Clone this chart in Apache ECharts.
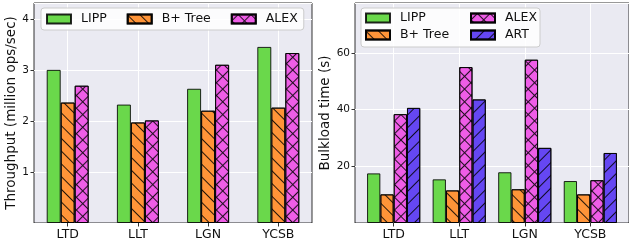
<!DOCTYPE html>
<html>
<head>
    <meta charset="utf-8">
    <title>ECharts</title>
    <script src="https://cdn.jsdelivr.net/npm/echarts@6/dist/echarts.min.js"></script>
    <style>
      body, canvas {
        padding: 0;
        margin: 0;
      }
    </style>
</head>
<body>
    <div id="main" style="width:629px;height:245px"></div>
    <script type="text/javascript">
      const categories = ['LTD', 'LLT', 'LGN', 'YCSB'];
      // throughput, million ops/sec
      const tpLIPP = [3.0, 2.32, 2.63, 3.45];
      const tpBTree = [2.36, 1.97, 2.20, 2.26];
      const tpALEX = [2.69, 2.01, 3.10, 3.33];
      // bulkload time, s
      const blLIPP = [17.5, 15.4, 17.9, 14.8];
      const blBTree = [10.1, 11.5, 11.9, 10.1];
      const blALEX = [38.4, 55.0, 57.6, 15.1];
      const blART = [40.6, 43.6, 26.5, 24.7];

      const FONT = 'DejaVu Sans';
      const hatchColor = 'rgba(0,0,0,0.85)';
      const styles = {
        'LIPP': { color: '#6ad84b' },
        'B+ Tree': {
          color: '#ff9438',
          decal: { symbol: 'rect', symbolSize: 1, color: hatchColor, dashArrayX: [1, 0], dashArrayY: [1, 7.8], rotation: Math.PI / 4 }
        },
        'ALEX': {
          color: '#ef5de7',
          decal: {
            symbol: 'path://M0,4.4 L10,4.4 L10,5.6 L0,5.6 Z M4.4,0 L5.6,0 L5.6,10 L4.4,10 Z',
            symbolSize: 1, color: hatchColor, dashArrayX: [8.8, 0], dashArrayY: [8.8, 0], rotation: Math.PI / 4
          }
        },
        'ART': {
          color: '#6547f3',
          decal: { symbol: 'rect', symbolSize: 1, color: hatchColor, dashArrayX: [1, 0], dashArrayY: [1, 7.8], rotation: -Math.PI / 4 }
        }
      };

      const toPoints = arr => arr.map((v, i) => [i, v]);

      function bar(name, values, axis, width) {
        return {
          name: name,
          type: 'bar',
          xAxisIndex: axis,
          yAxisIndex: axis,
          barWidth: width,
          barGap: '0%',
          data: toPoints(values),
          itemStyle: Object.assign({ borderColor: 'rgba(0,0,0,0.85)', borderWidth: 1 }, styles[name])
        };
      }

      function xAxis(idx, min, max) {
        return {
          type: 'value',
          gridIndex: idx,
          min: min,
          max: max,
          axisLine: { show: false, onZero: false },
          axisTick: { show: true, length: 3.5, customValues: [0, 1, 2, 3], lineStyle: { color: '#333' } },
          axisLabel: {
            customValues: [0, 1, 2, 3],
            formatter: v => categories[Math.round(v)],
            color: '#111', fontFamily: FONT, fontSize: 12.5, margin: 5
          },
          splitLine: { show: true, lineStyle: { color: '#fff', width: 1 } }
        };
      }

      function yAxis(idx, max, interval, name, gap) {
        return {
          type: 'value',
          gridIndex: idx,
          min: 0,
          max: max,
          interval: interval,
          name: name,
          nameLocation: 'middle',
          nameGap: gap,
          nameTextStyle: { fontFamily: FONT, fontSize: 13.5, color: '#111' },
          axisLine: { show: false, onZero: false },
          axisTick: { show: true, length: 3.5, lineStyle: { color: '#333' } },
          axisLabel: { showMinLabel: false, showMaxLabel: false, color: '#111', fontFamily: FONT, fontSize: 10.5, margin: 5 },
          splitLine: { show: true, lineStyle: { color: '#fff', width: 1 } }
        };
      }

      const legendBase = {
        itemWidth: 24,
        itemHeight: 9,
        icon: 'rect',
        textStyle: { fontFamily: FONT, fontSize: 12.5, color: '#111', padding: [0, 0, 0, 5], lineHeight: 14 }
      };

      const myChart = echarts.init(document.getElementById('main'));
      const option = {
        animation: false,
        grid: [
          { left: 34, top: 3, width: 278, height: 220, show: true, backgroundColor: '#eaeaf2', borderColor: 'rgba(0,0,0,0.8)', borderWidth: 1 },
          { left: 355, top: 3, width: 278, height: 220, show: true, backgroundColor: '#eaeaf2', borderColor: 'rgba(0,0,0,0.8)', borderWidth: 1 }
        ],
        xAxis: [xAxis(0, -0.48, 3.48), xAxis(1, -0.59, 3.59)],
        yAxis: [
          yAxis(0, 4.31, 1, 'Throughput (million ops/sec)', 14),
          yAxis(1, 77.6, 20, 'Bulkload time (s)', 20)
        ],
        legend: [
          Object.assign({}, legendBase, {
            data: ['LIPP', 'B+ Tree', 'ALEX'],
            left: 41, top: 8, itemGap: 20,
            padding: [4, 6, 4, 5],
            backgroundColor: 'rgba(255,255,255,0.85)',
            borderColor: '#cccccc', borderWidth: 1, borderRadius: 3
          }),
          Object.assign({}, legendBase, {
            data: ['LIPP', 'B+ Tree'],
            orient: 'vertical', left: 365, top: 11, itemGap: 3, padding: 0
          }),
          Object.assign({}, legendBase, {
            data: ['ALEX', 'ART'],
            orient: 'vertical', left: 470, top: 11, itemGap: 3, padding: 0
          })
        ],
        graphic: [{
          type: 'rect', z: 1,
          shape: { x: 361, y: 8, width: 179, height: 39, r: 3 },
          style: { fill: 'rgba(255,255,255,0.85)', stroke: '#cccccc', lineWidth: 1 }
        }],
        series: [
          bar('LIPP', tpLIPP, 0, 14),
          bar('B+ Tree', tpBTree, 0, 14),
          bar('ALEX', tpALEX, 0, 14),
          bar('LIPP', blLIPP, 1, 13.3),
          bar('B+ Tree', blBTree, 1, 13.3),
          bar('ALEX', blALEX, 1, 13.3),
          bar('ART', blART, 1, 13.3)
        ]
      };
      myChart.setOption(option);
    </script>
</body>
</html>
